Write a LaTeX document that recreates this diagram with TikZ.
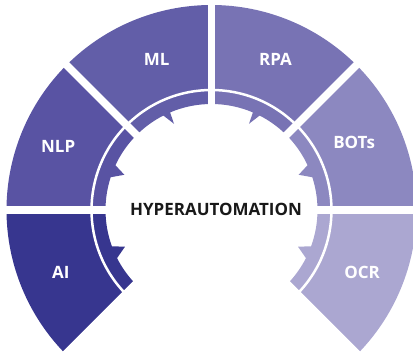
\documentclass[tikz,border=0pt]{standalone}
\usepackage{fontspec}
\setmainfont{Open Sans}
\definecolor{segai}{HTML}{37368F}
\definecolor{segnlp}{HTML}{5953A3}
\definecolor{segml}{HTML}{625EA8}
\definecolor{segrpa}{HTML}{7873B4}
\definecolor{segbots}{HTML}{8C88C0}
\definecolor{segocr}{HTML}{ABA7D1}
\begin{document}
\begin{tikzpicture}[scale=0.0352]
\tikzstyle{every node}+=[inner sep=0pt]
\tikzstyle{seglabel}=[text=white, font=\bfseries\fontsize{17}{17}\selectfont]
\useasboundingbox (-211.5,-144) rectangle (201.5,210);
% segments, each with one ratchet tooth on the inner edge
\fill [segai] (225:205) arc (225:180:205) -- (180:106) arc (180:200:106) -- (203:94) -- (207:106) arc (207:225:106) -- cycle;
\fill [segnlp] (180:205) arc (180:135:205) -- (135:106) arc (135:155:106) -- (158:94) -- (162:106) arc (162:180:106) -- cycle;
\fill [segml] (135:205) arc (135:90:205) -- (90:106) arc (90:113:106) -- (113.5:94) -- (117:106) arc (117:135:106) -- cycle;
\fill [segrpa] (90:205) arc (90:45:205) -- (45:106) arc (45:63:106) -- (66.5:94) -- (67:106) arc (67:90:106) -- cycle;
\fill [segbots] (45:205) arc (45:0:205) -- (0:106) arc (0:18:106) -- (22:94) -- (25:106) arc (25:45:106) -- cycle;
\fill [segocr] (0:205) arc (0:-45:205) -- (-45:106) arc (-45:-27:106) -- (-23:94) -- (-20:106) arc (-20:0:106) -- cycle;
% white ring and gaps
\draw [white, line width=2.5pt] (-45:120) arc (-45:225:120);
\draw [white, line width=7.5pt] (0:90) -- (0:215);
\draw [white, line width=7.5pt] (45:90) -- (45:215);
\draw [white, line width=7.5pt] (90:90) -- (90:215);
\draw [white, line width=7.5pt] (135:90) -- (135:215);
\draw [white, line width=7.5pt] (180:90) -- (180:215);
\draw [white, line width=10pt] (225:90) -- (225:215);
\draw [white, line width=10pt] (-45:90) -- (-45:215);
% labels
\node [seglabel] (ai) at (202.5:163) {AI};
\node [seglabel] (nlp) at (157.5:166) {NLP};
\node [seglabel] (ml) at (110:160) {ML};
\node [seglabel] (rpa) at (67:164) {RPA};
\node [seglabel] (bots) at (25.5:158) {BOTs};
\node [seglabel] (ocr) at (-22.5:163) {OCR};
\node [text=black!90, font=\bfseries\fontsize{17}{17}\selectfont] (hyper) at (4.5,1) {HYPERAUTOMATION};
\end{tikzpicture}
\end{document}
